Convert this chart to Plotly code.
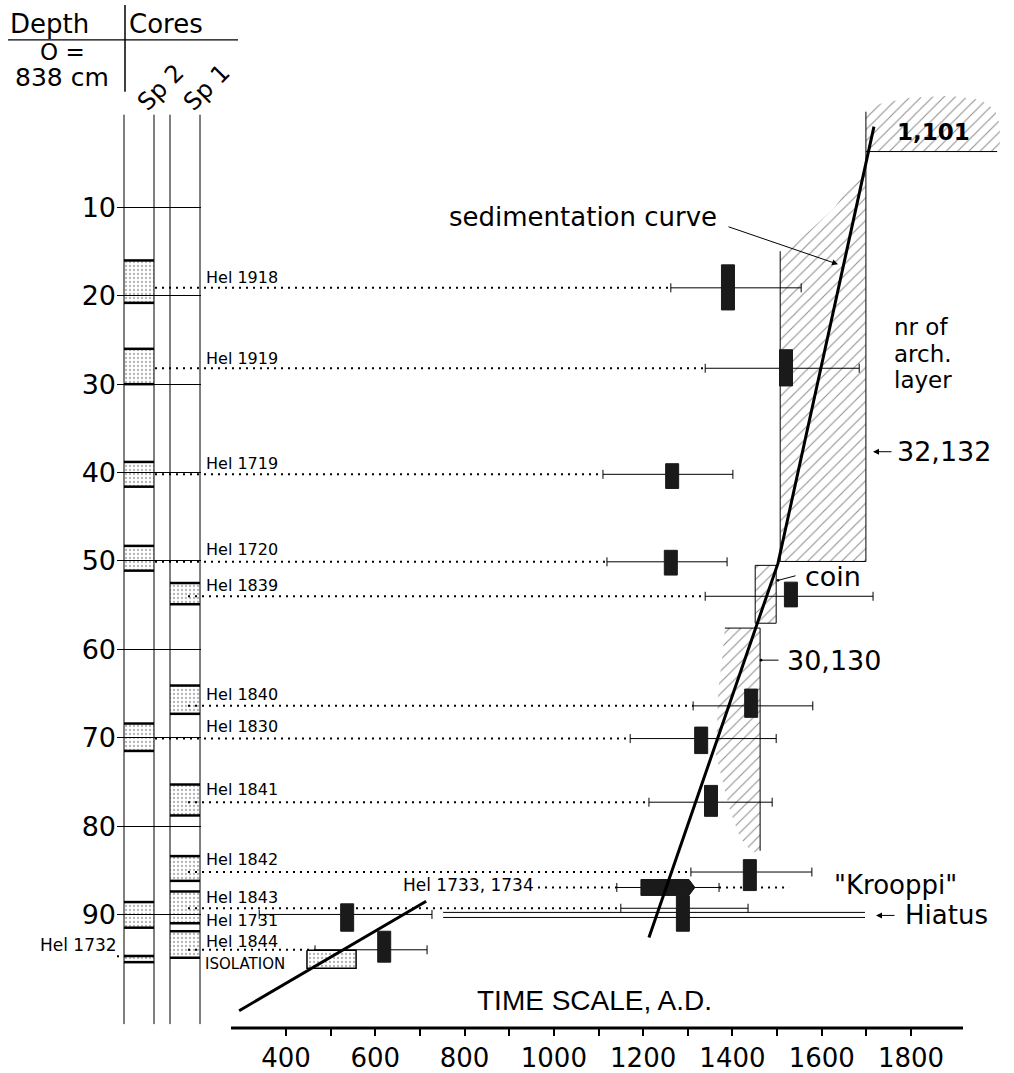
import plotly.graph_objects as go

# ---------------- DATA ----------------
depth_ticks = [10, 20, 30, 40, 50, 60, 70, 80, 90]
time_ticks = [400, 500, 600, 700, 800, 900, 1000, 1100, 1200, 1300, 1400, 1500, 1600, 1700, 1800]
time_labels = ["400", "", "600", "", "800", "", "1000", "", "1200", "", "1400", "", "1600", "", "1800"]

# stippled layers in the cores (depth cm, top / bottom)
sp2_top = [16.0, 26.0, 38.8, 48.3, 68.4, 88.6, 94.7]
sp2_bot = [20.8, 30.0, 41.6, 51.1, 71.5, 91.5, 95.4]
sp1_top = [52.5, 64.1, 75.3, 83.4, 87.4, 91.9]
sp1_bot = [54.9, 67.3, 78.8, 86.2, 91.0, 94.9]

# radiocarbon samples
sample_labels = ["Hel 1918", "Hel 1919", "Hel 1719", "Hel 1720", "Hel 1839", "Hel 1840",
                 "Hel 1830", "Hel 1841", "Hel 1842", "Hel 1843", "Hel 1731", "Hel 1844"]
sample_core = ["Sp 2", "Sp 2", "Sp 2", "Sp 2", "Sp 1", "Sp 1",
               "Sp 2", "Sp 1", "Sp 1", "Sp 1", None, "Sp 1"]
sample_depth = [19.1, 28.2, 40.2, 50.1, 54.0, 66.4, 70.1, 77.3, 85.2, 89.3, 90.0, 94.0]
date_lo = [1262, 1339, 1110, 1119, 1339, 1312, 1171, 1213, 1307, 1150, 340, 465]
date_hi = [1554, 1684, 1401, 1388, 1715, 1580, 1498, 1489, 1578, 1435, 727, 716]
date_mid = [1390, 1520, 1265, 1262, 1531, 1442, 1330, 1352, 1439, 1289, 537, 620]
box_top = [16.5, 26.1, 39.0, 48.8, 52.4, 64.5, 68.8, 75.4, 83.8, 87.9, 88.8, 91.9]
box_bot = [21.6, 30.2, 41.8, 51.6, 55.2, 67.7, 71.8, 78.9, 87.3, 91.9, 91.9, 95.4]

# Hel 1733, 1734 (combined date)
k_depth = 86.95
k_lo, k_hi, k_ext = 1141, 1370, 1527
k_arrow_start, k_arrow_tip = 1195, 1316
# Hel 1732
h1732_depth = 94.74
# isolation
iso_t = [447, 557]
iso_d = [94.06, 96.1]
# hiatus
hiatus_d = [89.77, 90.34]
hiatus_t = [752, 1697]

# sedimentation curves
sed_t = [1717, 1502, 1213]
sed_d = [0.86, 50.28, 92.6]
sed2_t = [295, 714]
sed2_d = [100.9, 88.5]

# archaeological layers (hatched)
a101_t = [1699, 1731, 1798, 1887, 1955, 1988, 1999, 1999, 1699]
a101_d = [-0.83, -1.73, -2.41, -2.64, -2.19, -1.06, 0.63, 3.68, 3.68]
a132_t = [1507, 1551, 1625, 1670, 1699, 1699, 1507]
a132_d = [14.96, 13.61, 10.23, 7.18, 5.15, 50.06, 50.06]
coin_t = [1451, 1498]
coin_d = [50.5, 57.05]
a130_t = [1383, 1462, 1462, 1444, 1417, 1395, 1363, 1368, 1377]
a130_d = [57.6, 57.6, 82.8, 83.0, 81.3, 78.3, 71.9, 64.7, 61.0]

# ---------------- LAYOUT HELPERS ----------------
W, H = 1014, 1073
T_PX0, T_VAL0, PX_PER_YR = 286, 400, 625 / 1400
D_PX0, D_VAL0, PX_PER_CM = 208, 10, 709 / 80
x_range = [T_VAL0 - T_PX0 / PX_PER_YR, T_VAL0 + (W - T_PX0) / PX_PER_YR]
y_range = [D_VAL0 + (H - D_PX0) / PX_PER_CM, D_VAL0 - D_PX0 / PX_PER_CM]


def px_t(px):
    return T_VAL0 + (px - T_PX0) / PX_PER_YR


def py_d(py):
    return D_VAL0 + (py - D_PX0) / PX_PER_CM


def xp(px):
    return px / W


def yp(py):
    return 1 - py / H


FONT = "DejaVu Sans"
col_x = {"Sp 2": (124, 154), "Sp 1": (170, 200)}
dot_start = {"Sp 2": 155, "Sp 1": 188}
box_hw = 6.5 / PX_PER_YR
hatch = dict(shape="/", size=8, solidity=0.14, fgcolor="#222", bgcolor="white")
stipple = dict(shape=".", size=4, solidity=0.25, fgcolor="#666", bgcolor="white")

fig = go.Figure()


def line(xs, ys, width=1, dash=None, color="black"):
    fig.add_trace(go.Scatter(x=xs, y=ys, mode="lines",
                             line=dict(color=color, width=width, dash=dash),
                             hoverinfo="skip"))


# hatched layers
for tt, dd in [(a101_t, a101_d), (a132_t, a132_d), (a130_t, a130_d)]:
    fig.add_trace(go.Scatter(x=tt, y=dd, fill="toself", mode="none",
                             fillpattern=hatch, fillcolor="rgba(0,0,0,0)", hoverinfo="skip"))
fig.add_trace(go.Scatter(x=[coin_t[0], coin_t[1], coin_t[1], coin_t[0], coin_t[0]],
                         y=[coin_d[0], coin_d[0], coin_d[1], coin_d[1], coin_d[0]],
                         fill="toself", mode="lines", line=dict(color="black", width=1),
                         fillpattern=hatch, hoverinfo="skip"))
# outlines of layers
line([a132_t[-1], a132_t[0]], [a132_d[-1], a132_d[0]])
line([a132_t[-1], a132_t[4]], [a132_d[-1], a132_d[-1]])
line([a132_t[4], a132_t[4]], [a101_d[0], a132_d[-1]])
line([a101_t[0], 1993], [a101_d[-1], a101_d[-1]])
line([a130_t[0], a130_t[1], a130_t[2]], [a130_d[0], a130_d[1], a130_d[2]])

# cores: stippled layers
for core, tops, bots in [("Sp 2", sp2_top, sp2_bot), ("Sp 1", sp1_top, sp1_bot)]:
    x0, x1 = px_t(col_x[core][0]), px_t(col_x[core][1])
    px_, py_, lx, ly = [], [], [], []
    for a, b in zip(tops, bots):
        px_ += [x0, x1, x1, x0, x0, None]
        py_ += [a, a, b, b, a, None]
        lx += [x0, x1, None, x0, x1, None]
        ly += [a, a, None, b, b, None]
    fig.add_trace(go.Scatter(x=px_, y=py_, fill="toself", mode="none",
                             fillpattern=stipple, fillcolor="rgba(0,0,0,0)", hoverinfo="skip"))
    line(lx, ly, width=2.5)

# core column lines
cx, cy = [], []
for pxv in [124, 154, 170, 200]:
    cx += [px_t(pxv), px_t(pxv), None]
    cy += [py_d(115), py_d(1027), None]
line(cx, cy, width=1)

# dotted lines from cores to dates
dx, dy = [], []
for c, d, lo in zip(sample_core, sample_depth, date_lo):
    if c is None:
        continue
    dx += [px_t(dot_start[c]), lo, None]
    dy += [d, d, None]
dx += [px_t(538), k_lo, None, k_hi, k_ext, None, px_t(117), px_t(153), None]
dy += [k_depth, k_depth, None, k_depth, k_depth, None, h1732_depth, h1732_depth, None]
line(dx, dy, width=2, dash="2px,5px")

# hiatus
for hd in hiatus_d:
    line(hiatus_t, [hd, hd], width=1)

# error bars
fig.add_trace(go.Scatter(
    x=date_mid + [(k_lo + k_hi) / 2], y=sample_depth + [k_depth], mode="markers",
    marker=dict(size=1, color="black"),
    error_x=dict(type="data", symmetric=False,
                 array=[h - m for h, m in zip(date_hi, date_mid)] + [(k_hi - k_lo) / 2],
                 arrayminus=[m - l for m, l in zip(date_mid, date_lo)] + [(k_hi - k_lo) / 2],
                 width=4.5, thickness=1, color="black"),
    hoverinfo="skip"))

# isolation box
fig.add_trace(go.Scatter(x=[iso_t[0], iso_t[1], iso_t[1], iso_t[0], iso_t[0]],
                         y=[iso_d[0], iso_d[0], iso_d[1], iso_d[1], iso_d[0]],
                         fill="toself", mode="lines", line=dict(color="black", width=1.5),
                         fillpattern=stipple, hoverinfo="skip"))

# median boxes
bx, by = [], []
for m, a, b in zip(date_mid, box_top, box_bot):
    bx += [m - box_hw, m + box_hw, m + box_hw, m - box_hw, m - box_hw, None]
    by += [a, a, b, b, a, None]
fig.add_trace(go.Scatter(x=bx, y=by, fill="toself", mode="lines", fillcolor="#1a1a1a",
                         line=dict(color="#1a1a1a", width=1), hoverinfo="skip"))
# Hel 1733/1734 arrow shape
kh = 0.9
tip_base = k_arrow_tip - 6 / PX_PER_YR
fig.add_trace(go.Scatter(x=[k_arrow_start, tip_base, k_arrow_tip, tip_base, k_arrow_start, k_arrow_start],
                         y=[k_depth - kh, k_depth - kh, k_depth, k_depth + kh, k_depth + kh, k_depth - kh],
                         fill="toself", mode="lines", fillcolor="#1a1a1a",
                         line=dict(color="#1a1a1a", width=1), hoverinfo="skip"))

# sedimentation curves
line(sed_t, sed_d, width=3)
line(sed2_t, sed2_d, width=3)

# time axis line
line([px_t(231), px_t(963)], [py_d(1031), py_d(1031)], width=3)

# ---------------- ANNOTATIONS ----------------
ann = []


def text(s, x, y, size=26, xanchor="left", yanchor="middle", angle=0, bold=False, font=FONT):
    ann.append(dict(text=("<b>%s</b>" % s) if bold else s, x=xp(x), y=yp(y), xref="paper", yref="paper",
                    showarrow=False, xanchor=xanchor, yanchor=yanchor, textangle=angle,
                    borderpad=0,
                    font=dict(family=font, size=size, color="black")))


def arrow(hx, hy, tx, ty, head=2, size=1.0, width=1):
    ann.append(dict(text="", x=xp(hx), y=yp(hy), xref="paper", yref="paper", showarrow=True,
                    ax=tx - hx, ay=ty - hy, arrowhead=head, arrowsize=size, arrowwidth=width,
                    arrowcolor="black"))


label_py = [278, 360, 465, 551, 587, 696, 729, 792, 862, 900, 923, 944]
for s, py in zip(sample_labels, label_py):
    text(s, 205, py, size=16)
text("Hel 1733, 1734", 535, 887, size=17, xanchor="right")
text("Hel 1732", 118, 948, size=17, xanchor="right")
text("ISOLATION", 204, 967, size=15)

text("Depth", 9, 24, size=26)
text("Cores", 128, 24, size=26)
text("O =", 62, 52, size=23, xanchor="center")
text("838 cm", 62, 78, size=25, xanchor="center")
text("Sp 2", 160, 88, size=24, xanchor="center", angle=-45)
text("Sp 1", 206, 88, size=24, xanchor="center", angle=-45)

text("sedimentation curve", 718, 218, size=26, xanchor="right")
arrow(838, 265, 727, 227, head=2, size=1.2)
text("nr of", 893, 328, size=23)
text("arch.", 893, 355, size=23)
text("layer", 893, 381, size=23)
text("32,132", 896, 453, size=27)
arrow(873, 453, 893, 453, head=2, size=1.2)
text("coin", 804, 578, size=27)
arrow(778, 582, 797, 577, head=6, size=0.7)
text("30,130", 786, 662, size=27)
arrow(761, 662, 780, 662, head=6, size=0.7)
text("1,101", 933, 132, size=23, xanchor="center", bold=True)
text("\"Krooppi\"", 833, 887, size=26)
text("Hiatus", 904, 918, size=26)
arrow(876, 918, 896, 918, head=2, size=1.2)
text("TIME SCALE, A.D.", 594, 1003, size=28, xanchor="center", font="Liberation Sans")

# header lines
shapes = [
    dict(type="line", xref="paper", yref="paper", x0=xp(8), x1=xp(238), y0=yp(40), y1=yp(40),
         line=dict(color="black", width=1.2)),
    dict(type="line", xref="paper", yref="paper", x0=xp(125), x1=xp(125), y0=yp(5), y1=yp(92),
         line=dict(color="black", width=1.5)),
]

fig.update_layout(
    width=W, height=H, autosize=False,
    margin=dict(l=0, r=0, t=0, b=0, pad=0),
    paper_bgcolor="white", plot_bgcolor="white", showlegend=False,
    annotations=ann, shapes=shapes,
    xaxis=dict(range=x_range, domain=[0, 1], anchor="free", position=yp(1031),
               tickmode="array", tickvals=time_ticks, ticktext=time_labels,
               ticks="outside", ticklen=7, tickwidth=1.5, tickcolor="black",
               showgrid=False, zeroline=False, showline=False,
               tickfont=dict(family=FONT, size=26, color="black")),
    yaxis=dict(range=y_range, domain=[0, 1], anchor="free", position=xp(116),
               tickmode="array", tickvals=depth_ticks, ticktext=[str(v) for v in depth_ticks],
               ticks="inside", ticklen=84, tickwidth=1, tickcolor="black",
               showgrid=False, zeroline=False, showline=False,
               tickfont=dict(family=FONT, size=27, color="black")),
)

fig.write_html("out.html")
